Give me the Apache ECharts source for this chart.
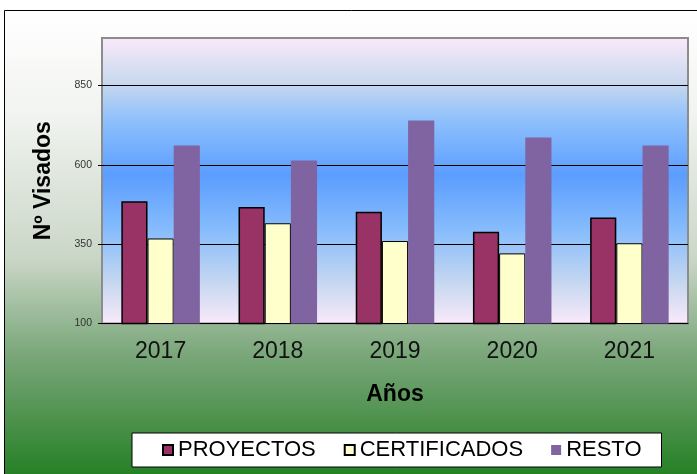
<!DOCTYPE html>
<html lang="es">
<head>
    <meta charset="UTF-8">
    <title>Nº Visados</title>
    <script src="https://cdn.jsdelivr.net/npm/echarts@6/dist/echarts.min.js"></script>
    <style>
        html, body { margin: 0; padding: 0; background: #fff; }
    </style>
</head>
<body>
<div id="main" style="width: 697px;height:474px;"></div>

<script type="text/javascript">
    // datos
    var anios = ['2017', '2018', '2019', '2020', '2021'];
    var proyectos = [485, 467, 452, 389, 434];
    var certificados = [368, 416, 360, 321, 353];
    var resto = [661, 614, 740, 686, 661];

    var fuente = 'Arial, "Liberation Sans", sans-serif';

    var myChart = echarts.init(document.getElementById('main'));

    var fondo = new echarts.graphic.LinearGradient(0, 0, 0, 1, [
        { offset: 0, color: '#ffffff' },
        { offset: 0.21, color: '#f2f4f1' },
        { offset: 0.52, color: '#c9d6c6' },
        { offset: 0.71, color: '#7ca87c' },
        { offset: 0.86, color: '#4a904a' },
        { offset: 1, color: '#1a7c1a' }
    ]);

    var fondoGrid = new echarts.graphic.LinearGradient(0, 0, 0, 1, [
        { offset: 0, color: '#faeafa' },
        { offset: 0.16, color: '#c8d8ee' },
        { offset: 0.29, color: '#8ec0fc' },
        { offset: 0.48, color: '#5b9dff' },
        { offset: 0.67, color: '#86bcfc' },
        { offset: 0.85, color: '#c4d6f0' },
        { offset: 1, color: '#faeafa' }
    ]);

    var option = {
        animation: false,
        graphic: [{
            type: 'rect',
            z: -100,
            silent: true,
            shape: { x: 4.5, y: 10.5, width: 710, height: 480 },
            style: { fill: fondo, stroke: '#000', lineWidth: 1 }
        }],
        grid: {
            left: 102,
            right: 9,
            top: 38,
            bottom: 150.5,
            show: true,
            backgroundColor: fondoGrid,
            borderColor: '#8c8c8c',
            borderWidth: 2
        },
        legend: {
            data: ['PROYECTOS', 'CERTIFICADOS', 'RESTO'],
            icon: 'rect',
            left: 132,
            top: 433,
            padding: [6, 20, 6, 30],
            itemWidth: 10,
            itemHeight: 10,
            itemGap: 28,
            backgroundColor: '#fff',
            borderColor: '#000',
            borderWidth: 1,
            textStyle: { fontFamily: fuente, fontSize: 22, color: '#000' }
        },
        xAxis: {
            type: 'category',
            data: anios,
            name: 'Años',
            nameLocation: 'middle',
            nameGap: 60,
            nameTextStyle: { fontFamily: fuente, fontSize: 23, fontWeight: 'bold', color: '#000' },
            axisLine: { lineStyle: { color: '#000', width: 1 } },
            axisTick: { length: 8, lineStyle: { color: '#000' } },
            axisLabel: { fontFamily: fuente, fontSize: 23, color: '#111', margin: 17 }
        },
        yAxis: {
            type: 'value',
            min: 100,
            max: 1000,
            interval: 250,
            name: 'Nº Visados',
            nameLocation: 'middle',
            nameGap: 47,
            nameTextStyle: { fontFamily: fuente, fontSize: 23, fontWeight: 'bold', color: '#000' },
            axisLine: { show: false },
            axisTick: { show: true, length: 4, lineStyle: { color: '#000' } },
            axisLabel: { fontFamily: fuente, fontSize: 10.5, color: '#333', margin: 10, showMaxLabel: false },
            splitLine: { lineStyle: { color: ['#000', '#000', '#000', '#000', 'rgba(0,0,0,0)'], width: 1 } }
        },
        series: [{
            name: 'PROYECTOS',
            type: 'bar',
            barGap: '0%',
            barCategoryGap: '33%',
            data: proyectos,
            itemStyle: { color: '#993366', borderColor: '#000', borderWidth: 1.5 }
        }, {
            name: 'CERTIFICADOS',
            type: 'bar',
            data: certificados,
            itemStyle: { color: '#ffffcc', borderColor: '#000', borderWidth: 1 }
        }, {
            name: 'RESTO',
            type: 'bar',
            data: resto,
            itemStyle: { color: '#8064a2' }
        }]
    };

    myChart.setOption(option);
</script>
</body>
</html>
